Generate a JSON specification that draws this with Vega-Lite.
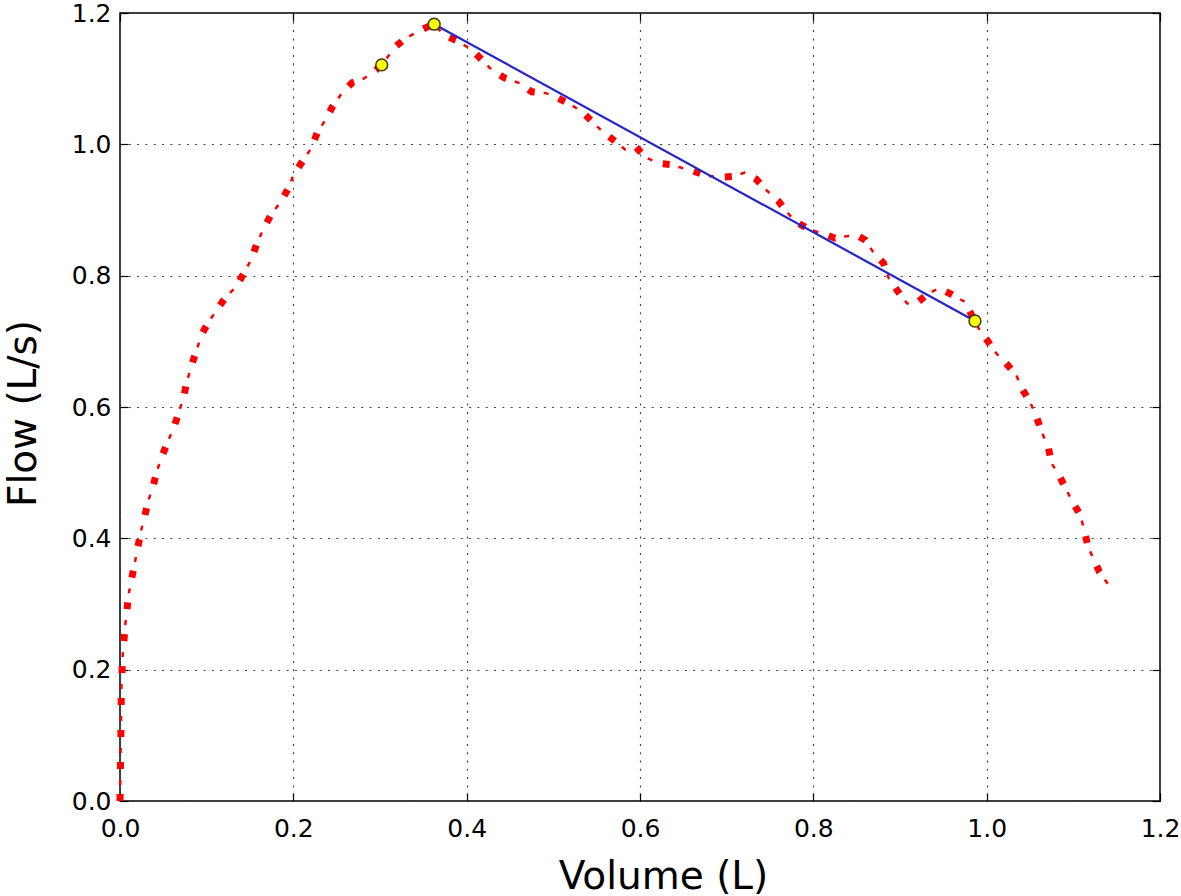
{
  "$schema": "https://vega.github.io/schema/vega-lite/v6.json",
  "autosize": {"type": "none"},
  "padding": {"left": 120, "top": 13, "right": 21, "bottom": 95},
  "width": 1040,
  "height": 788,
  "background": "white",
  "config": {
    "view": {"stroke": "#000", "strokeWidth": 1.5},
    "axis": {
      "domain": false,
      "tickColor": "#000",
      "tickSize": -8,
      "tickWidth": 1.2,
      "labelFont": "DejaVu Sans",
      "labelFontSize": 25,
      "labelColor": "#000",
      "titleFont": "DejaVu Sans",
      "titleFontWeight": "normal",
      "titleColor": "#000",
      "gridColor": "#444",
      "gridDash": [2, 6.3],
      "gridWidth": 1.2
    }
  },
  "datasets": {
    "curve": [
      {"volume": 0, "flow": 0}, {"volume": 0.0005, "flow": 0.05}, {"volume": 0.001, "flow": 0.1}, {"volume": 0.0015, "flow": 0.17},
      {"volume": 0.003, "flow": 0.22}, {"volume": 0.006, "flow": 0.267}, {"volume": 0.01, "flow": 0.315}, {"volume": 0.017, "flow": 0.362},
      {"volume": 0.024, "flow": 0.41}, {"volume": 0.033, "flow": 0.458}, {"volume": 0.0385, "flow": 0.481}, {"volume": 0.043, "flow": 0.504},
      {"volume": 0.049, "flow": 0.527}, {"volume": 0.0558, "flow": 0.549}, {"volume": 0.0627, "flow": 0.571}, {"volume": 0.0685, "flow": 0.594},
      {"volume": 0.0738, "flow": 0.618}, {"volume": 0.0777, "flow": 0.641}, {"volume": 0.0827, "flow": 0.664}, {"volume": 0.0885, "flow": 0.687},
      {"volume": 0.0942, "flow": 0.711}, {"volume": 0.103, "flow": 0.731}, {"volume": 0.1127, "flow": 0.75}, {"volume": 0.123, "flow": 0.769},
      {"volume": 0.134, "flow": 0.783}, {"volume": 0.143, "flow": 0.804}, {"volume": 0.152, "flow": 0.826}, {"volume": 0.1577, "flow": 0.848},
      {"volume": 0.165, "flow": 0.87}, {"volume": 0.174, "flow": 0.892}, {"volume": 0.1846, "flow": 0.911}, {"volume": 0.194, "flow": 0.932},
      {"volume": 0.2, "flow": 0.953}, {"volume": 0.211, "flow": 0.975}, {"volume": 0.221, "flow": 0.995}, {"volume": 0.2277, "flow": 1.018},
      {"volume": 0.2365, "flow": 1.036}, {"volume": 0.245, "flow": 1.057}, {"volume": 0.256, "flow": 1.078}, {"volume": 0.268, "flow": 1.094},
      {"volume": 0.28, "flow": 1.099}, {"volume": 0.2954, "flow": 1.113}, {"volume": 0.3077, "flow": 1.131}, {"volume": 0.318, "flow": 1.149},
      {"volume": 0.33, "flow": 1.162}, {"volume": 0.346, "flow": 1.173}, {"volume": 0.3615, "flow": 1.183}, {"volume": 0.375, "flow": 1.166},
      {"volume": 0.39, "flow": 1.157}, {"volume": 0.406, "flow": 1.144}, {"volume": 0.43, "flow": 1.112}, {"volume": 0.444, "flow": 1.101},
      {"volume": 0.4615, "flow": 1.093}, {"volume": 0.475, "flow": 1.08}, {"volume": 0.4915, "flow": 1.078}, {"volume": 0.503, "flow": 1.072},
      {"volume": 0.518, "flow": 1.062}, {"volume": 0.533, "flow": 1.05}, {"volume": 0.546, "flow": 1.033}, {"volume": 0.558, "flow": 1.018},
      {"volume": 0.571, "flow": 1.005}, {"volume": 0.583, "flow": 0.992}, {"volume": 0.595, "flow": 0.996}, {"volume": 0.608, "flow": 0.979},
      {"volume": 0.622, "flow": 0.971}, {"volume": 0.6365, "flow": 0.969}, {"volume": 0.646, "flow": 0.965}, {"volume": 0.66, "flow": 0.96},
      {"volume": 0.677, "flow": 0.952}, {"volume": 0.694, "flow": 0.95}, {"volume": 0.707, "flow": 0.951}, {"volume": 0.721, "flow": 0.957},
      {"volume": 0.734, "flow": 0.947}, {"volume": 0.746, "flow": 0.93}, {"volume": 0.7595, "flow": 0.914}, {"volume": 0.77, "flow": 0.896},
      {"volume": 0.781, "flow": 0.881}, {"volume": 0.796, "flow": 0.87}, {"volume": 0.811, "flow": 0.864}, {"volume": 0.825, "flow": 0.857},
      {"volume": 0.838, "flow": 0.86}, {"volume": 0.85, "flow": 0.862}, {"volume": 0.86, "flow": 0.854}, {"volume": 0.869, "flow": 0.836},
      {"volume": 0.881, "flow": 0.819}, {"volume": 0.887, "flow": 0.796}, {"volume": 0.897, "flow": 0.777}, {"volume": 0.908, "flow": 0.758},
      {"volume": 0.918, "flow": 0.757}, {"volume": 0.933, "flow": 0.773}, {"volume": 0.945, "flow": 0.781}, {"volume": 0.96, "flow": 0.771},
      {"volume": 0.975, "flow": 0.76}, {"volume": 0.9865, "flow": 0.73}, {"volume": 0.992, "flow": 0.717}, {"volume": 1.002, "flow": 0.699},
      {"volume": 1.0115, "flow": 0.681}, {"volume": 1.022, "flow": 0.667}, {"volume": 1.034, "flow": 0.649}, {"volume": 1.0415, "flow": 0.626},
      {"volume": 1.05, "flow": 0.608}, {"volume": 1.058, "flow": 0.583}, {"volume": 1.0635, "flow": 0.562}, {"volume": 1.071, "flow": 0.539},
      {"volume": 1.075, "flow": 0.514}, {"volume": 1.084, "flow": 0.495}, {"volume": 1.0915, "flow": 0.475}, {"volume": 1.1, "flow": 0.453},
      {"volume": 1.108, "flow": 0.436}, {"volume": 1.113, "flow": 0.41}, {"volume": 1.117, "flow": 0.387}, {"volume": 1.124, "flow": 0.367},
      {"volume": 1.13, "flow": 0.349}, {"volume": 1.1365, "flow": 0.337}, {"volume": 1.143, "flow": 0.324}
    ],
    "fit": [
      {"volume": 0.3625, "flow": 1.183},
      {"volume": 0.9865, "flow": 0.731}
    ],
    "marks": [
      {"volume": 0.302, "flow": 1.121},
      {"volume": 0.3625, "flow": 1.183},
      {"volume": 0.9865, "flow": 0.731}
    ]
  },
  "resolve": {"axis": {"x": "independent", "y": "independent"}},
  "layer": [
    {
      "data": {"name": "curve"},
      "mark": {"type": "line", "color": "#ff0000", "strokeWidth": 7, "strokeDash": [7, 25], "strokeCap": "butt"},
      "encoding": {
        "x": {"field": "volume", "type": "quantitative", "scale": {"domain": [0, 1.2], "nice": false, "zero": false},
          "axis": {"orient": "bottom", "title": "Volume (L)", "values": [0, 0.2, 0.4, 0.6, 0.8, 1.0, 1.2], "format": ".1f",
            "grid": true, "labelPadding": 23, "labelFlush": false, "titleFontSize": 39, "titleX": 543, "titleY": 87, "titleBaseline": "alphabetic", "titleAlign": "center", "titleAnchor": null}},
        "y": {"field": "flow", "type": "quantitative", "scale": {"domain": [0, 1.2], "nice": false, "zero": false},
          "axis": {"orient": "left", "title": "Flow (L/s)", "values": [0, 0.2, 0.4, 0.6, 0.8, 1.0, 1.2], "format": ".1f",
            "grid": true, "labelPadding": 17, "labelFlush": false, "titleFontSize": 39, "titleAngle": 270, "titleX": -85, "titleY": 400, "titleBaseline": "alphabetic", "titleAlign": "center", "titleAnchor": null}}
      }
    },
    {
      "data": {"name": "curve"},
      "mark": {"type": "line", "color": "#ff0000", "strokeWidth": 2.5, "strokeDash": [0, 16, 5, 11], "strokeCap": "butt"},
      "encoding": {
        "x": {"field": "volume", "type": "quantitative", "axis": {"orient": "top", "labels": false, "title": null, "grid": false, "values": [0, 0.2, 0.4, 0.6, 0.8, 1.0, 1.2]}},
        "y": {"field": "flow", "type": "quantitative", "axis": {"orient": "right", "labels": false, "title": null, "grid": false, "values": [0, 0.2, 0.4, 0.6, 0.8, 1.0, 1.2]}}
      }
    },
    {
      "data": {"name": "fit"},
      "mark": {"type": "line", "color": "#2424cc", "strokeWidth": 2.2},
      "encoding": {
        "x": {"field": "volume", "type": "quantitative", "axis": null},
        "y": {"field": "flow", "type": "quantitative", "axis": null}
      }
    },
    {
      "data": {"name": "marks"},
      "mark": {"type": "point", "shape": "circle", "filled": true, "fill": "#ffff00", "stroke": "#3a3a10", "strokeWidth": 1.5, "size": 140, "opacity": 1},
      "encoding": {
        "x": {"field": "volume", "type": "quantitative", "axis": null},
        "y": {"field": "flow", "type": "quantitative", "axis": null}
      }
    }
  ]
}
